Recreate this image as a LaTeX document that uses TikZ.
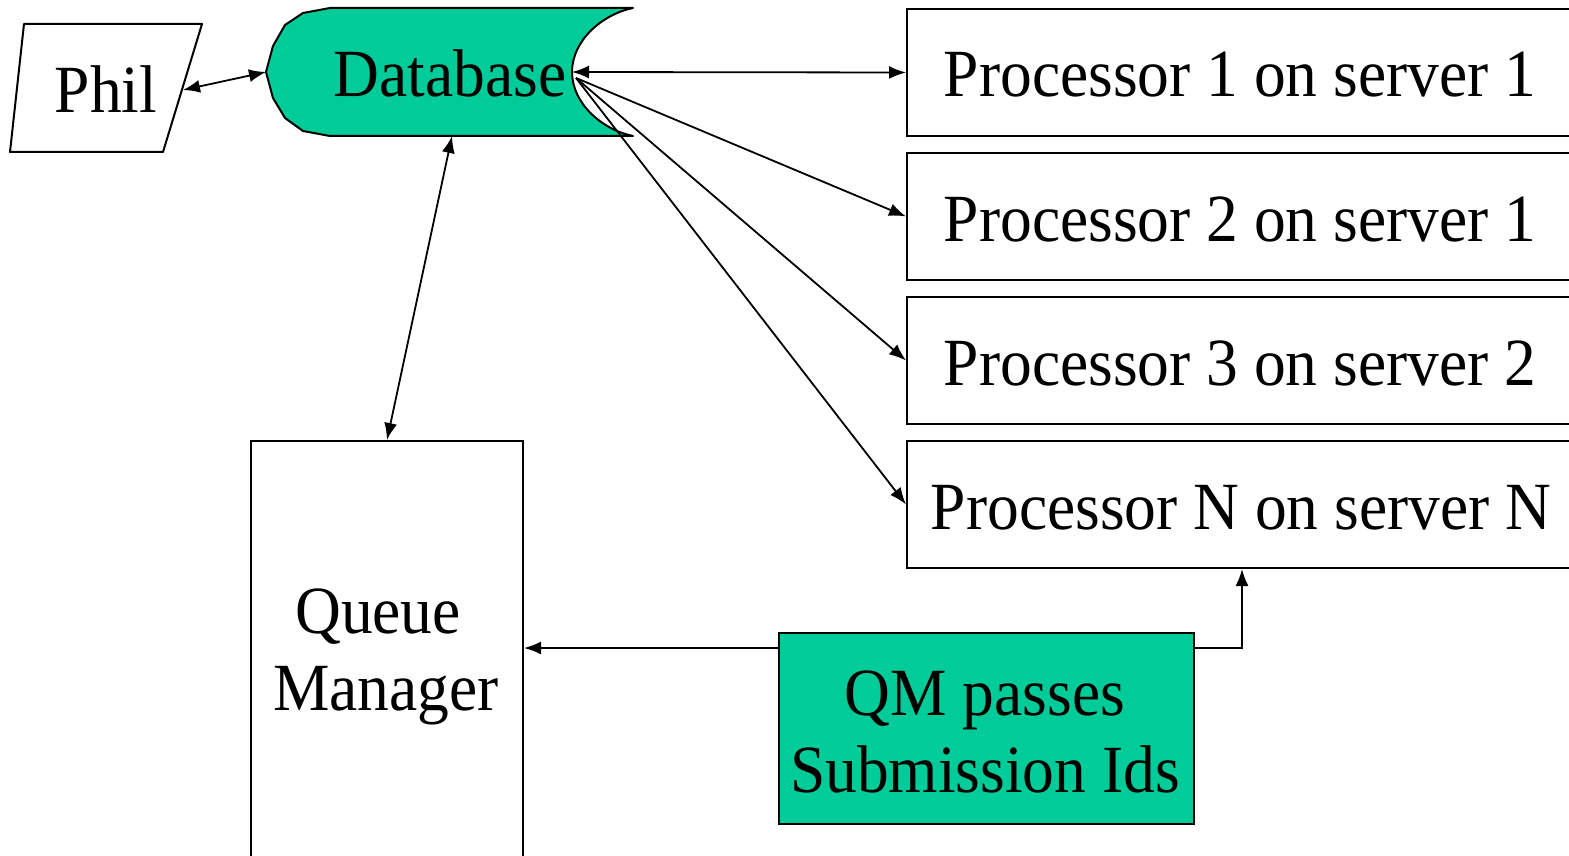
\documentclass[tikz,border=0pt]{standalone}
\usepackage{fontspec}
\setmainfont{Liberation Serif}[FakeStretch=0.94]
\usetikzlibrary{arrows.meta}
\definecolor{sea}{RGB}{0,204,153}
\begin{document}
\begin{tikzpicture}[x=1pt,y=-1pt,
  lbl/.style={font=\fontsize{67.5}{78}\selectfont, inner sep=0pt, anchor=base},
  shapeline/.style={line width=2pt, line join=round},
  box/.style={draw, rectangle, inner sep=0pt, line width=2pt},
  arr/.style={line width=1.8pt, -{Latex[length=17pt,width=13pt]}},
  darr/.style={line width=1.8pt, {Latex[length=17pt,width=13pt]}-{Latex[length=17pt,width=13pt]}},
]
\useasboundingbox (0,0) rectangle (1569,856);

% Phil
\draw[shapeline] (24,24) -- (202,24) -- (163,152) -- (10,152) -- cycle;
\node[lbl] (phil) at (106,113) {Phil};
\coordinate (philR) at (183,90);

% Database
\draw[shapeline, fill=sea] (330,8) -- (633,8)
  .. controls (603,14) and (572,40) .. (572,72)
  .. controls (572,104) and (603,130) .. (633,136)
  -- (330,136) -- (303,131) -- (285,118) -- (273,98) -- (266,72)
  -- (273,46) -- (285,25) -- (303,13) -- cycle;
\node[lbl] (db) at (450,97) {Database};
\coordinate (dbL) at (266,72);
\coordinate (dbR) at (572,72);
\coordinate (dbS) at (576,78);
\coordinate (dbB) at (452,136);

% Processors
\node[box, minimum width=680pt, minimum height=127pt, anchor=north west] (p1) at (906,8) {};
\node[box, minimum width=680pt, minimum height=127pt, anchor=north west] (p2) at (906,152) {};
\node[box, minimum width=680pt, minimum height=127pt, anchor=north west] (p3) at (906,296) {};
\node[box, minimum width=680pt, minimum height=127pt, anchor=north west] (p4) at (906,440) {};
\node[lbl] (t1) at (1240,97) {Processor 1 on server 1};
\node[lbl] (t2) at (1240,241) {Processor 2 on server 1};
\node[lbl] (t3) at (1240,385) {Processor 3 on server 2};
\node[lbl] (t4) at (1241,529) {Processor N on server N};

% Queue Manager
\node[box, minimum width=272pt, minimum height=440pt, anchor=north west] (qm) at (250,440) {};
\node[lbl] (qmt1) at (378,633) {Queue};
\node[lbl] (qmt2) at (386,710) {Manager};

% QM passes
\node[box, fill=sea, minimum width=415pt, minimum height=191pt, anchor=north west] (qmp) at (778,632) {};
\node[lbl] (qpt1) at (985,715) {QM passes};
\node[lbl] (qpt2) at (985,792) {Submission Ids};

% Connectors
\draw[darr] (philR) -- (dbL);
\draw[darr] (dbR) -- (p1.west);
\draw[arr] (dbS) -- (p2.west);
\draw[arr] (dbS) -- (p3.west);
\draw[arr] (dbS) -- (p4.west);
\draw[darr] (dbB) -- (qm.north);
\coordinate (qmpL) at ([yshift=-16pt]qmp.north west);
\coordinate (qmpR) at ([yshift=-16pt]qmp.north east);
\draw[arr] (qmpL) -- (qmpL -| qm.east);
\draw[arr] (qmpR) -| ([xshift=336pt]p4.south west);
\end{tikzpicture}
\end{document}
